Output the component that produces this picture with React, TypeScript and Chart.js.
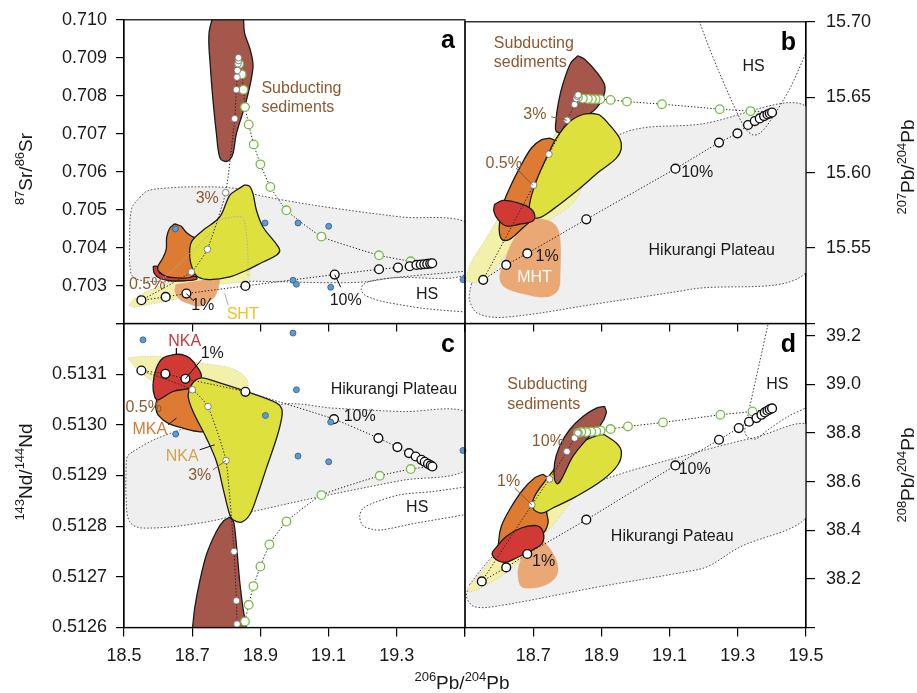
import React, { useEffect, useRef } from 'react';
import { Chart, registerables } from 'chart.js';
Chart.register(...registerables);

const FONT = "'Liberation Sans', Arial, Helvetica, sans-serif";
Chart.defaults.font.family = FONT;

type XY = [number, number];

// ---------------- axes ----------------
const X_TICKS = [18.5, 18.7, 18.9, 19.1, 19.3, 19.5];
const X_LABELS_C = ['18.5', '18.7', '18.9', '19.1', '19.3', ''];
const X_LABELS_D = ['', '18.7', '18.9', '19.1', '19.3', '19.5'];
const SR_TICKS = [0.702, 0.703, 0.704, 0.705, 0.706, 0.707, 0.708, 0.709, 0.71];
const SR_LABELS = ['', '0.703', '0.704', '0.705', '0.706', '0.707', '0.708', '0.709', '0.710'];
const PB7_TICKS = [15.5, 15.55, 15.6, 15.65, 15.7];
const PB7_LABELS = ['', '15.55', '15.60', '15.65', '15.70'];
const ND_TICKS = [0.5126, 0.5127, 0.5128, 0.5129, 0.513, 0.5131, 0.5132];
const ND_LABELS = ['0.5126', '0.5127', '0.5128', '0.5129', '0.5130', '0.5131', ''];
const PB8_TICKS = [38.0, 38.2, 38.4, 38.6, 38.8, 39.0, 39.2];
const PB8_LABELS = ['', '38.2', '38.4', '38.6', '38.8', '39.0', '39.2'];

const TITLE_SR: [string, boolean][] = [['87', true], ['Sr/', false], ['86', true], ['Sr', false]];
const TITLE_ND: [string, boolean][] = [['143', true], ['Nd/', false], ['144', true], ['Nd', false]];
const TITLE_PB7: [string, boolean][] = [['207', true], ['Pb/', false], ['204', true], ['Pb', false]];
const TITLE_PB8: [string, boolean][] = [['208', true], ['Pb/', false], ['204', true], ['Pb', false]];
const TITLE_PB6: [string, boolean][] = [['206', true], ['Pb/', false], ['204', true], ['Pb', false]];

// ---------------- panel a : 87Sr/86Sr ----------------
const A_HP: XY[] = [[18.546,0.70532],[18.5695,0.705495],[18.634,0.705574],[18.722,0.7056],[18.8246,0.705561],[18.883,0.705403],[18.971,0.705245],[19.118,0.705034],[19.3085,0.704811],[19.514,0.7046],[19.514,0.70335],[19.285,0.7032],[19.206,0.703095],[19.103,0.703074],[18.8686,0.703113],[18.6047,0.7031],[18.537,0.703166],[18.5196,0.70335],[18.5167,0.704192],[18.5226,0.705034]];
const A_HS: XY[] = [[19.5431,0.703403],[19.4991,0.703376],[19.285,0.7032],[19.2205,0.703113],[19.2,0.703008],[19.1956,0.702903],[19.203,0.702771],[19.2264,0.702666],[19.2645,0.702568],[19.3818,0.702395],[19.499,0.702305],[19.543,0.702271]];
const A_SED: XY[] = [[18.766,0.710245],[18.7493,0.70964],[18.7534,0.708753],[18.761,0.707876],[18.771,0.707],[18.7806,0.706384],[18.7953,0.706271],[18.81,0.706316],[18.8197,0.706474],[18.8296,0.707],[18.859,0.707876],[18.8783,0.708753],[18.8707,0.709192],[18.854,0.709632],[18.8414,0.710245]];
const A_ORANGE: XY[] = [[18.6487,0.704626],[18.6677,0.704561],[18.6824,0.704403],[18.6985,0.704297],[18.722,0.704192],[18.7161,0.703666],[18.7015,0.703245],[18.634,0.703218],[18.6047,0.70335],[18.5988,0.703482],[18.6135,0.703718],[18.6238,0.703955],[18.6252,0.704271],[18.634,0.704508]];
const A_RED: XY[] = [[18.5856,0.703508],[18.5988,0.703495],[18.6047,0.703324],[18.6487,0.703232],[18.7103,0.703245],[18.7132,0.703166],[18.678,0.703126],[18.634,0.703126],[18.6047,0.703192],[18.5886,0.703324]];
const A_PALE: XY[] = [[18.5138,0.702482],[18.5314,0.702666],[18.5754,0.702876],[18.6487,0.703113],[18.722,0.703271],[18.8628,0.703508],[18.8642,0.703139],[18.8109,0.703061],[18.766,0.703008],[18.7073,0.702824],[18.6487,0.702639],[18.5754,0.702508],[18.5314,0.702429]];
const A_PEACH: XY[] = [[18.6516,0.703034],[18.7777,0.703153],[18.7748,0.702876],[18.763,0.702666],[18.722,0.702455],[18.6927,0.702508],[18.662,0.702639],[18.6487,0.70285]];
const A_YELLOW: XY[] = [[18.854,0.705653],[18.8334,0.705534],[18.81,0.705376],[18.7806,0.704805],[18.7317,0.704455],[18.6977,0.704147],[18.6927,0.703753],[18.7024,0.703403],[18.717,0.703226],[18.7513,0.703158],[18.81,0.703226],[18.859,0.703403],[18.9076,0.703621],[18.9469,0.703797],[18.9566,0.703929],[18.9419,0.704147],[18.9076,0.704542],[18.8883,0.704982],[18.8783,0.705421],[18.8686,0.705613]];
const A_SHT: XY[] = [[18.6144,0.703184],[18.6537,0.703489],[18.7024,0.703929],[18.761,0.704455],[18.7806,0.704718],[18.8197,0.704805],[18.849,0.704789],[18.859,0.704368],[18.8636,0.703753],[18.8636,0.703226]];
const A_MIX_HS: XY[] = [[18.551,0.702613],[18.6223,0.7027],[18.683,0.702789],[18.856,0.702989],[19.1179,0.703289],[19.2478,0.703429],[19.3035,0.703474],[19.3378,0.703508],[19.3575,0.703542],[19.3701,0.703553],[19.3804,0.703561],[19.3892,0.70357],[19.398,0.703579],[19.4038,0.703587]];
const A_MIX_SED: XY[] = [[18.551,0.702613],[18.6977,0.703358],[18.7446,0.703955],[18.7982,0.705447],[18.8246,0.707395],[18.8296,0.708158],[18.8314,0.708489],[18.8325,0.708666],[18.8343,0.708842],[18.8355,0.708929],[18.8355,0.709]];
const A_MIX_HSSED: XY[] = [[19.4038,0.703587],[19.3408,0.703639],[19.2478,0.703797],[19.0789,0.704289],[18.9763,0.704982],[18.9293,0.705595],[18.9,0.706192],[18.8804,0.706718],[18.8657,0.707245],[18.8548,0.7077],[18.8502,0.708158],[18.8452,0.708561],[18.8378,0.708837],[18.8355,0.709]];
const A_BLUE: XY[] = [[18.6507,0.704489],[18.9135,0.704647],[19.0103,0.704647],[19.1003,0.704561],[18.9956,0.703139],[19.0056,0.703034],[19.1062,0.702955],[19.4941,0.703158]];
const A_LEAD_1: XY[] = [[18.683,0.702789],[18.7015,0.702613]];
const A_LEAD_10: XY[] = [[19.1179,0.703289],[19.1355,0.702955]];
const A_LEAD_SHT: XY[] = [[18.7953,0.702797],[18.8056,0.702482]];

// ---------------- panel b : 207Pb/204Pb ----------------
const B_HP: XY[] = [[18.5191,15.52651],[18.6013,15.54493],[18.7774,15.5877],[18.9535,15.6252],[19.1883,15.63211],[19.5111,15.64164],[19.5111,15.53671],[19.159,15.52257],[18.8948,15.51336],[18.6159,15.50414],[18.5367,15.50678],[18.5132,15.51533],[18.5147,15.5219]];
const B_HS: XY[] = [[19.1824,15.70941],[19.1883,15.7],[19.2411,15.66882],[19.3057,15.63592],[19.3254,15.62829],[19.3447,15.625],[19.3644,15.62605],[19.3937,15.63375],[19.4524,15.65566],[19.5015,15.68026],[19.526,15.69296]];
const B_SED: XY[] = [[18.8311,15.6775],[18.8508,15.6752],[18.886,15.66664],[18.9095,15.65809],[18.9065,15.65086],[18.886,15.64296],[18.8508,15.63638],[18.8067,15.62717],[18.7686,15.62717],[18.7671,15.63507],[18.7744,15.64691],[18.7862,15.65809],[18.8097,15.67257]];
const B_PALE: XY[] = [[18.5015,15.52849],[18.5132,15.53836],[18.5572,15.5548],[18.6013,15.57125],[18.66,15.59099],[18.7187,15.60743],[18.7715,15.62849],[18.795,15.63507],[18.8214,15.63046],[18.8419,15.59099],[18.8067,15.57783],[18.7187,15.56467],[18.6306,15.54822],[18.5719,15.53178],[18.5279,15.52717]];
const B_MHT: XY[] = [[18.709,15.57013],[18.7577,15.56684],[18.7774,15.55921],[18.7794,15.53289],[18.7724,15.52191],[18.7383,15.5175],[18.6697,15.51974],[18.6159,15.52408],[18.6013,15.53066],[18.6159,15.54164],[18.6403,15.5548],[18.6796,15.56579]];
const B_ORANGE: XY[] = [[18.748,15.62289],[18.7656,15.62059],[18.7539,15.60743],[18.7333,15.5877],[18.704,15.57125],[18.66,15.56138],[18.6306,15.55579],[18.6109,15.55526],[18.6013,15.55941],[18.6013,15.56664],[18.611,15.57849],[18.6306,15.58967],[18.66,15.60303],[18.6943,15.61618],[18.7237,15.62171]];
const B_RED: XY[] = [[18.5866,15.57895],[18.6109,15.58158],[18.655,15.58],[18.6893,15.57671],[18.704,15.57237],[18.699,15.56796],[18.66,15.56579],[18.6209,15.56467],[18.5963,15.56908],[18.5845,15.57454]];
const B_YELLOW: XY[] = [[18.8751,15.63921],[18.8948,15.63816],[18.9241,15.63158],[18.9535,15.62276],[18.9585,15.61618],[18.9438,15.60961],[18.8948,15.60086],[18.8264,15.5877],[18.7577,15.57566],[18.7187,15.57013],[18.6943,15.57125],[18.6893,15.57895],[18.709,15.59428],[18.7383,15.60961],[18.7677,15.62276],[18.8067,15.63375],[18.8458,15.63855]];
const B_MIX_HS: XY[] = [[18.5534,15.52895],[18.6209,15.53882],[18.6826,15.54645],[18.8557,15.56908],[19.117,15.60263],[19.2449,15.61993],[19.2989,15.62605],[19.33,15.63158],[19.3497,15.63421],[19.3644,15.63592],[19.377,15.6375],[19.387,15.63855],[19.3937,15.63921],[19.4005,15.63987]];
const B_MIX_SED: XY[] = [[18.5534,15.52895],[18.7011,15.59164],[18.746,15.61224],[18.7994,15.63474],[18.8214,15.64513],[18.8264,15.64908],[18.8293,15.65066],[18.8317,15.65151]];
const B_MIX_HSSED: XY[] = [[19.4005,15.63987],[19.3371,15.64079],[19.247,15.64211],[19.0776,15.64539],[18.9749,15.64711],[18.9271,15.64822],[18.8968,15.64868],[18.883,15.64868],[18.8722,15.64868],[18.8604,15.64888],[18.8458,15.64908],[18.8311,15.64974]];
const B_LEAD_3: XY[] = [[18.753,15.63704],[18.7994,15.63474]];
const B_LEAD_05: XY[] = [[18.6503,15.60303],[18.699,15.59164]];

// ---------------- panel c : 143Nd/144Nd ----------------
const C_HP: XY[] = [[18.5264,0.5129474],[18.5754,0.5129665],[18.6243,0.5129803],[18.722,0.5130021],[18.9663,0.5130409],[19.1129,0.513033],[19.3085,0.5130263],[19.5138,0.5130208],[19.5138,0.5129162],[19.3085,0.5128896],[19.0739,0.512858],[18.8783,0.512829],[18.722,0.5128061],[18.5557,0.5127962],[18.5167,0.5128086],[18.5065,0.5128521],[18.5065,0.5129211],[18.5109,0.5129389]];
const C_HS: XY[] = [[19.5285,0.5128797],[19.4991,0.5128771],[19.4062,0.5128684],[19.3085,0.5128619],[19.2302,0.5128455],[19.2,0.5128343],[19.1912,0.5128191],[19.2009,0.5128007],[19.2352,0.5127929],[19.2595,0.5127929],[19.3575,0.5128061],[19.4991,0.5128225],[19.5285,0.5128264]];
const C_SED: XY[] = [[18.81,0.5128175],[18.8217,0.5128086],[18.8305,0.5127573],[18.8393,0.5126908],[18.849,0.5126383],[18.8598,0.5125955],[18.8628,0.5125758],[18.6927,0.5125758],[18.7006,0.5125988],[18.7073,0.5126383],[18.722,0.5126908],[18.7416,0.5127435],[18.771,0.5127895],[18.7924,0.5128106]];
const C_PALE: XY[] = [[18.5109,0.5131323],[18.5657,0.5131353],[18.6487,0.5131323],[18.722,0.5131224],[18.81,0.5131126],[18.849,0.5130988],[18.8642,0.513083],[18.8569,0.5130711],[18.722,0.5130593],[18.6047,0.513079],[18.546,0.5131047]];
const C_RED: XY[] = [[18.6537,0.5131396],[18.673,0.5131382],[18.6927,0.5131317],[18.717,0.513112],[18.727,0.5130954],[18.7123,0.5130824],[18.6927,0.5130725],[18.6437,0.5130658],[18.5997,0.5130494],[18.59,0.5130559],[18.585,0.513079],[18.595,0.513112],[18.6144,0.5131317]];
const C_ORANGE: XY[] = [[18.5959,0.5130494],[18.639,0.5130672],[18.683,0.5130711],[18.7161,0.5130692],[18.7367,0.5130494],[18.7367,0.5129882],[18.7123,0.5129873],[18.673,0.5129936],[18.629,0.5130034],[18.5997,0.5130198],[18.593,0.5130356]];
const C_YELLOW: XY[] = [[18.6927,0.5130731],[18.7073,0.5130869],[18.7279,0.5130928],[18.7806,0.513083],[18.859,0.5130658],[18.9469,0.5130435],[18.9625,0.5130317],[18.9625,0.5130139],[18.9478,0.5129744],[18.9176,0.5129146],[18.8883,0.5128554],[18.8686,0.5128225],[18.8443,0.5128081],[18.8197,0.5128126],[18.81,0.5128225],[18.7903,0.5128752],[18.771,0.5129277],[18.7416,0.5129738],[18.7024,0.5130263],[18.6883,0.5130553]];
const C_MIX_HS: XY[] = [[18.551,0.5131072],[18.6214,0.5131007],[18.6801,0.5130909],[18.856,0.5130652],[19.1158,0.5130113],[19.246,0.5129738],[19.3018,0.5129561],[19.3358,0.5129442],[19.3554,0.5129375],[19.3722,0.512931],[19.3818,0.5129271],[19.3915,0.5129231],[19.3994,0.5129198],[19.4044,0.5129178]];
const C_MIX_SED: XY[] = [[18.551,0.5131072],[18.7006,0.5130692],[18.7463,0.5130362],[18.7991,0.5129296],[18.8226,0.51275],[18.8296,0.5126527],[18.8314,0.5126068],[18.832,0.51258]];
const C_MIX_HSSED: XY[] = [[19.4044,0.5129178],[19.3408,0.5129127],[19.2499,0.5128994],[19.0789,0.5128613],[18.9763,0.5128092],[18.9264,0.5127638],[18.9,0.5127204],[18.8795,0.5126817],[18.8657,0.5126448],[18.8548,0.5126119],[18.848,0.51258]];
const C_BLUE: XY[] = [[18.5557,0.5131678],[18.9956,0.5131811],[19.0056,0.5130692],[18.9147,0.5130184],[18.6516,0.5129817],[19.0103,0.5129383],[19.1003,0.5129271],[19.1062,0.5130054],[19.4941,0.5129494]];
const C_LEAD_NKA: XY[] = [[18.6537,0.5131514],[18.6537,0.5131382]];
const C_LEAD_1: XY[] = [[18.727,0.5131284],[18.6801,0.5130909]];
const C_LEAD_MKA: XY[] = [[18.629,0.5130001],[18.6537,0.5130133]];
const C_LEAD_NKA2: XY[] = [[18.722,0.5129507],[18.766,0.5129606]];
const C_LEAD_3: XY[] = [[18.761,0.5129113],[18.7991,0.5129296]];

// ---------------- panel d : 208Pb/204Pb ----------------
const D_HP: XY[] = [[18.5132,38.176],[18.5719,38.2788],[18.7187,38.4843],[18.8889,38.5994],[19.1531,38.7103],[19.3497,38.7814],[19.5111,38.8254],[19.5111,38.472],[19.3007,38.3269],[19.2127,38.2512],[19.1539,38.2307],[18.8948,38.1678],[18.6013,38.0897],[18.5279,38.0856],[18.5044,38.1267]];
const D_HS: XY[] = [[19.3937,39.2858],[19.3888,39.2488],[19.33,38.8747],[19.3204,38.8061],[19.33,38.7814],[19.3547,38.7761],[19.3888,38.8131],[19.4475,38.8678],[19.4985,38.9023],[19.526,38.92]];
const D_SED: XY[] = [[18.9094,38.9089],[18.9144,38.8817],[18.8948,38.8267],[18.8557,38.772],[18.8164,38.7034],[18.787,38.6211],[18.7724,38.5911],[18.7627,38.6076],[18.7627,38.6762],[18.7774,38.7445],[18.8067,38.8131],[18.8458,38.8678],[18.8851,38.9023]];
const D_PALE: XY[] = [[18.5073,38.1637],[18.5426,38.2171],[18.6013,38.3199],[18.66,38.4226],[18.7333,38.5459],[18.792,38.6487],[18.8214,38.6898],[18.8361,38.6076],[18.8126,38.5254],[18.7774,38.4555],[18.7275,38.3733],[18.6306,38.2377],[18.5426,38.1596],[18.5132,38.1472]];
const D_PEACH: XY[] = [[18.7284,38.361],[18.7577,38.3063],[18.7724,38.2512],[18.7677,38.2101],[18.7383,38.176],[18.699,38.1625],[18.665,38.169],[18.655,38.2171],[18.66,38.2652],[18.6746,38.3063]];
const D_ORANGE: XY[] = [[18.7284,38.6302],[18.748,38.6076],[18.7539,38.5459],[18.7392,38.4843],[18.7436,38.4309],[18.7275,38.3856],[18.66,38.3404],[18.6013,38.3199],[18.5992,38.361],[18.6063,38.4156],[18.6306,38.4843],[18.6697,38.5665],[18.704,38.6146]];
const D_RED: XY[] = [[18.5816,38.3129],[18.6209,38.3745],[18.665,38.4091],[18.709,38.4185],[18.7284,38.3951],[18.7266,38.3474],[18.699,38.3199],[18.6503,38.2858],[18.6159,38.2677],[18.5916,38.2788],[18.5798,38.2993]];
const D_YELLOW: XY[] = [[18.9094,38.7925],[18.9438,38.7584],[18.9585,38.7239],[18.9485,38.6692],[18.9045,38.6076],[18.8264,38.5389],[18.7577,38.4913],[18.7237,38.4707],[18.699,38.4913],[18.704,38.5389],[18.7383,38.6076],[18.7774,38.6762],[18.8164,38.7309],[18.8557,38.772],[18.8948,38.7925]];
const D_MIX_HS: XY[] = [[18.5493,38.1896],[18.6209,38.2471],[18.6826,38.3022],[18.8557,38.4432],[19.117,38.6664],[19.2449,38.772],[19.3028,38.8201],[19.333,38.846],[19.3547,38.8612],[19.3694,38.8747],[19.3791,38.8842],[19.387,38.8912],[19.3937,38.8965],[19.4005,38.9006]];
const D_MIX_SED: XY[] = [[18.5493,38.1896],[18.6961,38.5048],[18.748,38.6105],[18.7988,38.7239],[18.8214,38.779],[18.8311,38.7995]];
const D_MIX_HSSED: XY[] = [[19.4005,38.9006],[19.343,38.8883],[19.249,38.8747],[19.0806,38.8431],[18.9778,38.8267],[18.9271,38.816],[18.8977,38.8102],[18.8851,38.8061],[18.8704,38.8049],[18.8557,38.8036],[18.8411,38.8036],[18.8311,38.7995]];
const D_LEAD_1: XY[] = [[18.6453,38.5735],[18.6961,38.5048]];

// ---------------- text labels ----------------
interface Lbl { t: string; x: number; y: number; c: string; a?: CanvasTextAlign }
const TXT_BROWN = '#8b5a30';
const TXT_BLACK = '#1a1a1a';
const A_LABELS: Lbl[] = [
  { t: 'Subducting', x: 18.903, y: 0.708192, c: TXT_BROWN, a: 'left' },
  { t: 'sediments', x: 18.903, y: 0.7077, c: TXT_BROWN, a: 'left' },
  { t: '3%', x: 18.744, y: 0.705297, c: TXT_BROWN },
  { t: '0.5%', x: 18.568, y: 0.703034, c: TXT_BROWN },
  { t: '1%', x: 18.7308, y: 0.702482, c: TXT_BLACK },
  { t: '10%', x: 19.15, y: 0.702613, c: TXT_BLACK },
  { t: 'HS', x: 19.389, y: 0.702771, c: TXT_BLACK },
  { t: 'SHT', x: 18.848, y: 0.702245, c: '#f0c22a' },
];
const B_LABELS: Lbl[] = [
  { t: 'Subducting', x: 18.5845, y: 15.68572, c: TXT_BROWN, a: 'left' },
  { t: 'sediments', x: 18.5845, y: 15.67322, c: TXT_BROWN, a: 'left' },
  { t: '3%', x: 18.7049, y: 15.63868, c: TXT_BROWN },
  { t: '0.5%', x: 18.6136, y: 15.60579, c: TXT_BROWN },
  { t: '1%', x: 18.7407, y: 15.54428, c: TXT_BLACK },
  { t: 'MHT', x: 18.704, y: 15.53066, c: '#ffffff' },
  { t: '10%', x: 19.181, y: 15.59974, c: TXT_BLACK },
  { t: 'HS', x: 19.3462, y: 15.67059, c: TXT_BLACK },
  { t: 'Hikurangi Plateau', x: 19.2235, y: 15.54822, c: TXT_BLACK },
];
const C_LABELS: Lbl[] = [
  { t: 'NKA', x: 18.678, y: 0.5131645, c: '#c9363b' },
  { t: '1%', x: 18.7587, y: 0.5131402, c: TXT_BLACK },
  { t: '0.5%', x: 18.5578, y: 0.5130346, c: TXT_BROWN },
  { t: 'MKA', x: 18.5754, y: 0.5129902, c: '#d27838' },
  { t: 'NKA', x: 18.6707, y: 0.5129375, c: '#cfa84e' },
  { t: '3%', x: 18.722, y: 0.5128998, c: TXT_BROWN },
  { t: '10%', x: 19.1912, y: 0.5130165, c: TXT_BLACK },
  { t: 'Hikurangi Plateau', x: 19.2915, y: 0.5130692, c: TXT_BLACK },
  { t: 'HS', x: 19.3598, y: 0.5128357, c: TXT_BLACK },
];
const D_LABELS: Lbl[] = [
  { t: 'Subducting', x: 18.6239, y: 38.998, c: TXT_BROWN, a: 'left' },
  { t: 'sediments', x: 18.6239, y: 38.9158, c: TXT_BROWN, a: 'left' },
  { t: '10%', x: 18.743, y: 38.765, c: TXT_BROWN },
  { t: '1%', x: 18.6277, y: 38.6006, c: TXT_BROWN },
  { t: '1%', x: 18.7304, y: 38.2718, c: TXT_BLACK },
  { t: '10%', x: 19.1736, y: 38.6487, c: TXT_BLACK },
  { t: 'HS', x: 19.4158, y: 38.9993, c: TXT_BLACK },
  { t: 'Hikurangi Pateau', x: 19.1076, y: 38.3745, c: TXT_BLACK },
];

// ---------------- styles ----------------
const GRAY_F = '#efefef';
const BROWN_F = '#a5574b';
const ORANGE_F = '#de7b32';
const RED_F = '#d13a34';
const YELLOW_F = '#dde03d';
const PALE_F = '#f3f1a9';
const PEACH_F = '#e9a874';
const EDGE = '#1b1b1b';
const DOT = [1.6, 1.8];

const pts = (a: XY[]) => a.map(([x, y]) => ({ x, y }));
const ring = (a: XY[]) => a.concat([a[0]]);
const radii = (n: number, r: number, zero: number[]) => Array.from({ length: n }, (_, i) => (zero.includes(i) ? 0 : r));

const field = (a: XY[], bg: string, stroke: string, w: number, dash: number[] = [], tension = 0.35) => ({
  data: pts(ring(a)), fill: 'shape', backgroundColor: bg, borderColor: stroke, borderWidth: w, borderDash: dash,
  pointRadius: 0, tension, clip: 0, capBezierPoints: false,
});
const outline = (a: XY[], stroke: string, w: number, dash: number[], tension = 0.3) => ({
  data: pts(a), fill: false, borderColor: stroke, borderWidth: w, borderDash: dash, pointRadius: 0, tension, clip: 0, capBezierPoints: false,
});
const mixHS = (a: XY[]) => ({
  data: pts(a), fill: false, borderColor: '#222', borderWidth: 1, borderDash: [1.3, 1.9], tension: 0.15,
  pointRadius: 4.4, pointBackgroundColor: '#fff', pointBorderColor: '#111', pointBorderWidth: 1.4,
  clip: { left: 6, right: 6, top: 6, bottom: 0 },
});
const mixSed = (a: XY[], zero: number[]) => ({
  data: pts(a), fill: false, borderColor: '#222', borderWidth: 1, borderDash: [1.3, 1.9], tension: 0.15,
  pointRadius: radii(a.length, 3.3, zero), pointBackgroundColor: '#fff', pointBorderColor: '#6a6a6a', pointBorderWidth: 0.8,
  clip: { left: 6, right: 6, top: 6, bottom: 0 },
});
const mixGreen = (a: XY[], zero: number[]) => ({
  data: pts(a), fill: false, borderColor: '#222', borderWidth: 1, borderDash: [1.3, 1.9], tension: 0.15,
  pointRadius: radii(a.length, 4.3, zero), pointBackgroundColor: '#fff', pointBorderColor: '#7cbb4a', pointBorderWidth: 1.3,
  clip: { left: 6, right: 6, top: 6, bottom: 0 },
});
const dots = (a: XY[]) => ({
  data: pts(a), showLine: false, fill: false, pointRadius: 3, pointBackgroundColor: '#5b9bd5', pointBorderColor: '#2d5d8a', pointBorderWidth: 0.8, clip: 4,
});
const lead = (a: XY[], color: string) => ({
  data: pts(a), fill: false, borderColor: color, borderWidth: 1, pointRadius: 0, tension: 0, clip: 0,
});

interface Panel {
  letter: string;
  yPos: 'left' | 'right';
  yMin: number; yMax: number; yTicks: number[]; yLabels: string[];
  xLabels: string[] | null;
  padding: { left: number; top: number; right: number; bottom: number };
  xH: number; xTick: number;
  layers: any[];
  labels: Lbl[];
  titles: { parts: [string, boolean][]; x: number; y: number; rot: boolean }[];
}

const PANELS: Panel[] = [
  {
    letter: 'a', yPos: 'left', yMin: 0.702, yMax: 0.71, yTicks: SR_TICKS, yLabels: SR_LABELS, xLabels: null,
    padding: { left: 0, top: 19, right: 452, bottom: 361.5 }, xH: 8, xTick: 8,
    layers: [
      field(A_HP, GRAY_F, '#444', 0.9, DOT),
      outline(A_HS, '#333', 0.9, DOT),
      field(A_PALE, PALE_F, '#c4c4b0', 0.8, [1, 1.5]),
      field(A_PEACH, PEACH_F, 'rgba(0,0,0,0)', 0),
      field(A_RED, RED_F, EDGE, 1.3),
      field(A_ORANGE, ORANGE_F, EDGE, 1.3),
      field(A_YELLOW, YELLOW_F, EDGE, 1.3),
      field(A_SED, BROWN_F, EDGE, 1.3),
      outline(A_SHT, '#b0b0b0', 1, [1.5, 1.5], 0.2),
      lead(A_LEAD_SHT, '#aaaaaa'),
      mixGreen(A_MIX_HSSED, [0, A_MIX_HSSED.length - 1]),
      mixSed(A_MIX_SED, [0]),
      mixHS(A_MIX_HS),
      dots(A_BLUE),
      lead(A_LEAD_1, '#111'),
      lead(A_LEAD_10, '#111'),
    ],
    labels: A_LABELS,
    titles: [{ parts: TITLE_SR, x: 32, y: 169, rot: true }],
  },
  {
    letter: 'b', yPos: 'right', yMin: 15.5, yMax: 15.7, yTicks: PB7_TICKS, yLabels: PB7_LABELS, xLabels: null,
    padding: { left: 465, top: 19, right: 0, bottom: 361.5 }, xH: 8, xTick: 8,
    layers: [
      field(B_HP, GRAY_F, '#444', 0.9, DOT),
      outline(B_HS, '#333', 0.9, DOT),
      field(B_PALE, PALE_F, '#c4c4b0', 0.8, [1, 1.5]),
      field(B_MHT, PEACH_F, '#d9b28f', 0.6, [1, 1.5]),
      field(B_SED, BROWN_F, EDGE, 1.3),
      field(B_ORANGE, ORANGE_F, EDGE, 1.3),
      field(B_YELLOW, YELLOW_F, EDGE, 1.3),
      field(B_RED, RED_F, EDGE, 1.3),
      mixGreen(B_MIX_HSSED, [0]),
      mixSed(B_MIX_SED, [0]),
      mixHS(B_MIX_HS),
      lead(B_LEAD_3, TXT_BROWN),
      lead(B_LEAD_05, TXT_BROWN),
    ],
    labels: B_LABELS,
    titles: [{ parts: TITLE_PB7, x: 914, y: 167, rot: true }],
  },
  {
    letter: 'c', yPos: 'left', yMin: 0.5126, yMax: 0.5132, yTicks: ND_TICKS, yLabels: ND_LABELS, xLabels: X_LABELS_C,
    padding: { left: 0, top: 323.5, right: 452, bottom: 25.5 }, xH: 40, xTick: 9,
    layers: [
      field(C_HP, GRAY_F, '#444', 0.9, DOT),
      outline(C_HS, '#333', 0.9, DOT),
      field(C_PALE, PALE_F, '#c4c4b0', 0.8, [1, 1.5]),
      field(C_SED, BROWN_F, EDGE, 1.3, [], 0.25),
      field(C_ORANGE, ORANGE_F, EDGE, 1.3),
      field(C_RED, RED_F, EDGE, 1.3),
      field(C_YELLOW, YELLOW_F, EDGE, 1.3),
      mixGreen(C_MIX_HSSED, [0, C_MIX_HSSED.length - 1]),
      mixSed(C_MIX_SED, [0, C_MIX_SED.length - 1]),
      mixHS(C_MIX_HS),
      dots(C_BLUE),
      lead(C_LEAD_NKA, '#111'),
      lead(C_LEAD_1, '#111'),
      lead(C_LEAD_MKA, '#111'),
      lead(C_LEAD_NKA2, '#111'),
      lead(C_LEAD_3, TXT_BROWN),
    ],
    labels: C_LABELS,
    titles: [
      { parts: TITLE_ND, x: 32, y: 472, rot: true },
      { parts: TITLE_PB6, x: 462, y: 689, rot: false },
    ],
  },
  {
    letter: 'd', yPos: 'right', yMin: 38.0, yMax: 39.25, yTicks: PB8_TICKS, yLabels: PB8_LABELS, xLabels: X_LABELS_D,
    padding: { left: 465, top: 323.5, right: 0, bottom: 25.5 }, xH: 40, xTick: 9,
    layers: [
      field(D_HP, GRAY_F, '#444', 0.9, DOT),
      outline(D_HS, '#333', 0.9, DOT),
      field(D_PALE, PALE_F, '#c4c4b0', 0.8, [1, 1.5]),
      field(D_PEACH, PEACH_F, '#d9b28f', 0.6, [1, 1.5]),
      field(D_ORANGE, ORANGE_F, EDGE, 1.3),
      field(D_RED, RED_F, EDGE, 1.3),
      field(D_YELLOW, YELLOW_F, EDGE, 1.3),
      field(D_SED, BROWN_F, EDGE, 1.3),
      mixGreen(D_MIX_HSSED, [0]),
      mixSed(D_MIX_SED, [0]),
      mixHS(D_MIX_HS),
      lead(D_LEAD_1, TXT_BROWN),
    ],
    labels: D_LABELS,
    titles: [{ parts: TITLE_PB8, x: 914, y: 475, rot: true }],
  },
];

function drawRich(ctx: CanvasRenderingContext2D, parts: [string, boolean][], x: number, y: number, rot: boolean) {
  const size = 19, sup = 13;
  ctx.save();
  ctx.translate(x, y);
  if (rot) ctx.rotate(-Math.PI / 2);
  let w = 0;
  for (const [t, s] of parts) { ctx.font = `${s ? sup : size}px ${FONT}`; w += ctx.measureText(t).width; }
  let cx = -w / 2;
  ctx.textAlign = 'left';
  ctx.textBaseline = 'alphabetic';
  ctx.fillStyle = '#1a1a1a';
  for (const [t, s] of parts) {
    ctx.font = `${s ? sup : size}px ${FONT}`;
    ctx.fillText(t, cx, s ? -size * 0.4 : 0);
    cx += ctx.measureText(t).width;
  }
  ctx.restore();
}

function makeConfig(p: Panel): any {
  const xLabels = p.xLabels;
  const overlay = {
    id: 'overlay' + p.letter,
    afterDatasetsDraw(chart: any) {
      const ctx: CanvasRenderingContext2D = chart.ctx;
      const xs = chart.scales.x, ys = chart.scales.y;
      const a = chart.chartArea;
      ctx.save();
      ctx.textBaseline = 'middle';
      for (const l of p.labels) {
        ctx.font = `16px ${FONT}`;
        ctx.fillStyle = l.c;
        ctx.textAlign = l.a || 'center';
        ctx.fillText(l.t, xs.getPixelForValue(l.x), ys.getPixelForValue(l.y));
      }
      ctx.strokeStyle = '#000';
      ctx.lineWidth = 1.2;
      ctx.strokeRect(a.left, a.top, a.right - a.left, a.bottom - a.top);
      ctx.font = `bold 25px ${FONT}`;
      ctx.textAlign = 'right';
      ctx.textBaseline = 'alphabetic';
      ctx.fillStyle = '#000';
      ctx.fillText(p.letter, a.right - 10, a.top + 28);
      for (const t of p.titles) drawRich(ctx, t.parts, t.x, t.y, t.rot);
      ctx.restore();
    },
  };
  return {
    type: 'line',
    data: { datasets: p.layers.slice().reverse() },
    options: {
      animation: false,
      responsive: false,
      events: [],
      layout: { padding: p.padding },
      elements: { line: { capBezierPoints: false } },
      plugins: { legend: { display: false }, tooltip: { enabled: false } },
      scales: {
        x: {
          type: 'linear', position: 'bottom', min: 18.5, max: 19.5, bounds: 'data',
          afterBuildTicks: (s: any) => { s.ticks = X_TICKS.map((v) => ({ value: v })); },
          afterFit: (s: any) => { s.height = p.xH; },
          ticks: {
            display: !!xLabels, autoSkip: false, maxRotation: 0, minRotation: 0, padding: 9,
            color: '#1a1a1a', font: { size: 18 },
            callback: (_v: any, i: number) => (xLabels ? xLabels[i] : ''),
          },
          grid: { display: true, drawOnChartArea: false, drawTicks: true, tickLength: p.xTick, color: '#000', lineWidth: 1.2 },
          border: { display: true, color: '#000', width: 1.2 },
        },
        y: {
          type: 'linear', position: p.yPos, min: p.yMin, max: p.yMax, bounds: 'data',
          afterBuildTicks: (s: any) => { s.ticks = p.yTicks.map((v) => ({ value: v })); },
          afterFit: (s: any) => { s.width = p.yPos === 'left' ? 124 : 111; },
          ticks: {
            autoSkip: false, padding: p.yPos === 'left' ? 9 : 11, color: '#1a1a1a', font: { size: 18 },
            callback: (_v: any, i: number) => p.yLabels[i],
          },
          grid: { display: true, drawOnChartArea: false, drawTicks: true, tickLength: p.yPos === 'left' ? 8 : 9, color: '#000', lineWidth: 1.2 },
          border: { display: true, color: '#000', width: 1.2 },
        },
      },
    },
    plugins: [overlay],
  };
}

function PanelChart({ p }: { p: Panel }) {
  const ref = useRef<HTMLCanvasElement>(null);
  useEffect(() => {
    if (!ref.current) return;
    const chart = new Chart(ref.current, makeConfig(p));
    return () => chart.destroy();
  }, [p]);
  return <canvas ref={ref} width={917} height={693} style={{ position: 'absolute', left: 0, top: 0 }} />;
}

export default function App() {
  return (
    <div style={{ position: 'absolute', left: 0, top: 0, width: 917, height: 693, background: '#fff', overflow: 'hidden' }}>
      {PANELS.map((p) => <PanelChart key={p.letter} p={p} />)}
    </div>
  );
}
